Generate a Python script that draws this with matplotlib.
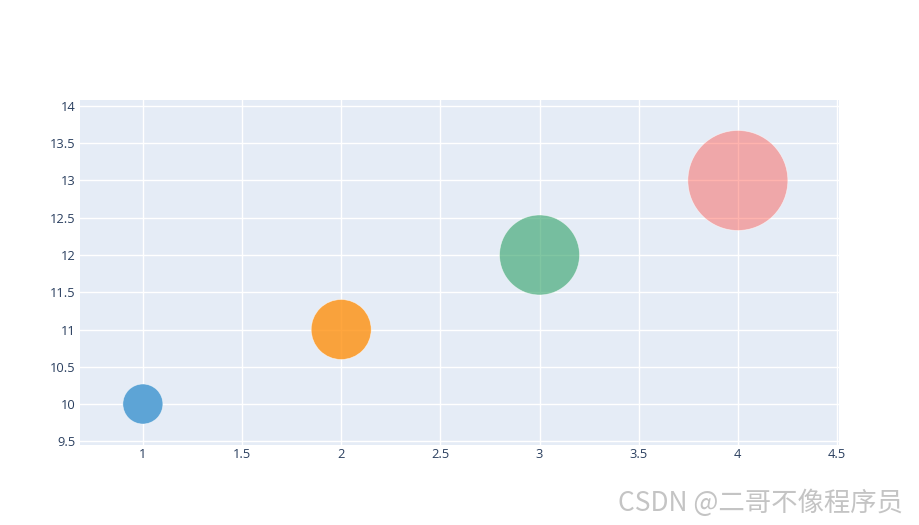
import numpy as np
import matplotlib.pyplot as plt
from matplotlib.colors import to_rgba

# bubble data
x_vals = [1, 2, 3, 4]
y_vals = [10, 11, 12, 13]
sizes = [40, 60, 80, 100]  # marker diameter in px
colors = ['#5DA4D6', '#FF900E', '#2CA065', '#FF4136']
opacities = [1.0, 0.8, 0.6, 0.4]

x_ticks = [1, 1.5, 2, 2.5, 3, 3.5, 4, 4.5]
x_labels = ['1', '1.5', '2', '2.5', '3', '3.5', '4', '4.5']
y_ticks = [9.5, 10, 10.5, 11, 11.5, 12, 12.5, 13, 13.5, 14]
y_labels = ['9.5', '10', '10.5', '11', '11.5', '12', '12.5', '13', '13.5', '14']


def main():
    dpi = 100
    fig = plt.figure(figsize=(9.2, 5.25), dpi=dpi)
    ax = fig.add_axes([80 / 920, 80 / 525, 759 / 920, 345 / 525])
    ax.set_facecolor('#E5ECF6')

    # plotly size = diameter in px -> matplotlib area in pt^2
    s = [(d * 72 / dpi) ** 2 for d in sizes]
    fc = [to_rgba(c, a) for c, a in zip(colors, opacities)]
    ax.scatter(x_vals, y_vals, s=s, c=fc, edgecolors=(1, 1, 1, 0.6),
               linewidths=0.5, zorder=3)

    ax.set_xlim(0.683, 4.51)
    ax.set_ylim(9.45, 14.08)
    ax.set_xticks(x_ticks)
    ax.set_xticklabels(x_labels)
    ax.set_yticks(y_ticks)
    ax.set_yticklabels(y_labels)
    ax.grid(True, color='white', linewidth=1, zorder=1)
    ax.set_axisbelow(True)
    for sp in ax.spines.values():
        sp.set_visible(False)
    ax.tick_params(length=0, labelsize=9.3, labelcolor='#2a3f5f')
    for lab in ax.get_xticklabels() + ax.get_yticklabels():
        lab.set_fontfamily('Open Sans')
    ax.tick_params(axis='x', pad=2)
    ax.tick_params(axis='y', pad=3)

    # watermark
    fig.text(903 / 920, 1 - 503 / 525, 'CSDN @二哥不像程序员', ha='right', va='center',
             fontsize=19, color='#C4C4C4', fontweight='light',
             family=['Noto Sans CJK SC', 'DejaVu Sans'])

    fig.savefig('out.png', dpi=dpi)


if __name__ == '__main__':
    main()
